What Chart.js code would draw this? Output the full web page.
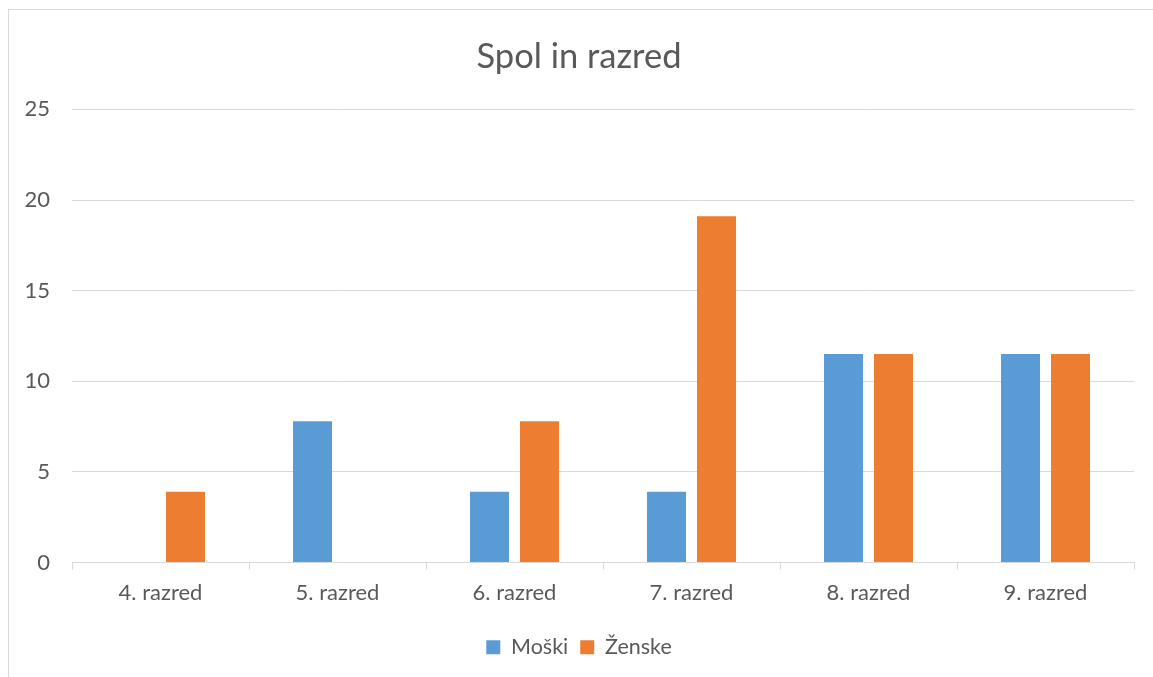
<!DOCTYPE html>
<html>
<head>
<meta charset="utf-8">
<script src="https://cdn.jsdelivr.net/npm/chart.js@4/dist/chart.umd.min.js"></script>
<style>
  html, body { margin: 0; padding: 0; background: #fff; overflow: hidden; }
  #frame { position: absolute; left: 8px; top: 9px; width: 1300px; height: 800px; border: 1.5px solid #d9d9d9; }
  #wrap { position: absolute; left: 0; top: 0; width: 1153px; height: 677px; }
</style>
</head>
<body>
<div id="frame"></div>
<div id="wrap"><canvas id="c" width="1153" height="677"></canvas></div>
<script>
const categories = ["4. razred", "5. razred", "6. razred", "7. razred", "8. razred", "9. razred"];
const moski = [0, 7.8, 3.9, 3.9, 11.5, 11.5];
const zenske = [3.9, 0, 7.8, 19.1, 11.5, 11.5];
const seriesNames = ["Moški", "Ženske"];
const chartTitle = "Spol in razred";

const FONT = "Lato, 'Open Sans', sans-serif";
const TXT = "#595959";
const GRID = "#d9d9d9";

new Chart(document.getElementById("c"), {
  type: "bar",
  data: {
    labels: categories,
    datasets: [
      { label: seriesNames[0], data: moski, backgroundColor: "#5B9BD5", categoryPercentage: 0.565, barPercentage: 0.78 },
      { label: seriesNames[1], data: zenske, backgroundColor: "#ED7D31", categoryPercentage: 0.565, barPercentage: 0.78 }
    ]
  },
  options: {
    responsive: false,
    animation: false,
    layout: { padding: { left: 24, right: 19, top: 0, bottom: 9 } },
    plugins: {
      title: {
        display: true,
        text: chartTitle,
        color: TXT,
        font: { family: FONT, size: 34.5, weight: "normal" },
        padding: { top: 36, bottom: 32 }
      },
      legend: {
        position: "bottom",
        labels: {
          color: TXT,
          font: { family: FONT, size: 21.5 },
          boxWidth: 14,
          boxHeight: 14,
          padding: 12
        }
      },
      tooltip: { enabled: false }
    },
    scales: {
      x: {
        grid: { display: true, drawOnChartArea: false, drawTicks: true, tickLength: 7, color: GRID, offset: true },
        border: { display: true, color: GRID, width: 1 },
        ticks: { color: TXT, font: { family: FONT, size: 22 }, padding: 10, maxRotation: 0 },
        afterFit: (s) => { s.height = 62; }
      },
      y: {
        min: 0, max: 25,
        grid: { color: GRID, drawTicks: false, lineWidth: 1 },
        border: { display: false },
        ticks: { stepSize: 5, color: TXT, font: { family: FONT, size: 22 }, padding: 22 },
        afterFit: (s) => { s.width = 48; }
      }
    }
  }
});
</script>
</body>
</html>
